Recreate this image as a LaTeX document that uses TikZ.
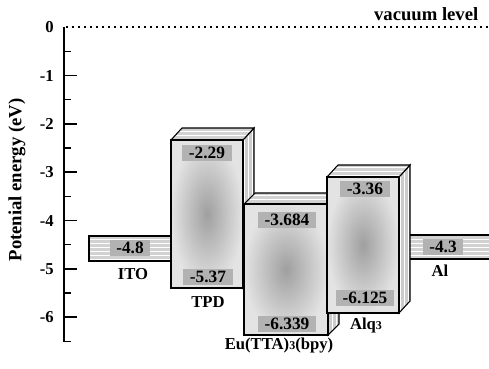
\documentclass[tikz,border=0pt]{standalone}
\usepackage{fontspec}
\setmainfont{Liberation Serif}
\usetikzlibrary{patterns}
\begin{document}
\begin{tikzpicture}[x=0.75pt,y=-0.75pt,
  lbl/.style={font=\bfseries\fontsize{12.5}{13}\selectfont, inner sep=1pt},
  ticklbl/.style={font=\bfseries\fontsize{12.5}{13}\selectfont, anchor=east, inner sep=0pt},
  num/.style={font=\bfseries\fontsize{13}{14}\selectfont, fill=gray!60, inner xsep=5pt, inner ysep=1.5pt},
  boxline/.style={draw=black, line width=0.8pt},
  frontshade/.style={inner color=gray!75, outer color=gray!22},
  scan/.style={pattern=horizontal lines, pattern color=white, fill opacity=0.45},
  sidescan/.style={pattern=vertical lines, pattern color=white, fill opacity=0.5},
  axisline/.style={line width=1.5pt},
  majortick/.style={line width=1.2pt},
  minortick/.style={line width=1pt},
  vac/.style={line width=1.6pt, dash pattern=on 1.2pt off 3.3pt}
]
\useasboundingbox (0,0) rectangle (489,368);

\newcommand\levelbox[6]{%
  \fill[gray!40] (#2,#3) -- (#2+#5,#3-#6) -- (#2+#5,#4-#6) -- (#2,#4) -- cycle;
  \fill[sidescan] (#2,#3) -- (#2+#5,#3-#6) -- (#2+#5,#4-#6) -- (#2,#4) -- cycle;
  \draw[boxline] (#2,#3) -- (#2+#5,#3-#6) -- (#2+#5,#4-#6) -- (#2,#4) -- cycle;
  \fill[gray!35] (#1,#3) -- (#1+#5,#3-#6) -- (#2+#5,#3-#6) -- (#2,#3) -- cycle;
  \fill[scan] (#1,#3) -- (#1+#5,#3-#6) -- (#2+#5,#3-#6) -- (#2,#3) -- cycle;
  \draw[boxline] (#1,#3) -- (#1+#5,#3-#6) -- (#2+#5,#3-#6) -- (#2,#3) -- cycle;
  \shade[frontshade] (#1,#3) rectangle (#2,#4);
  \draw[boxline] (#1,#3) rectangle (#2,#4);
}

% axis
\draw[axisline] (64,27) -- (64,342);
\foreach \k in {1,...,6} {
  \draw[majortick] (64,{27.3+48.33*\k}) -- (77,{27.3+48.33*\k});
}
\foreach \k in {0,...,6} {
  \draw[minortick] (64,{27.3+48.33*(\k+0.5)}) -- (71,{27.3+48.33*(\k+0.5)});
}
\node[ticklbl] (t0) at (54,27.3) {0};
\node[ticklbl] (t1) at (54,75.6) {-1};
\node[ticklbl] (t2) at (54,124) {-2};
\node[ticklbl] (t3) at (54,172.3) {-3};
\node[ticklbl] (t4) at (54,220.6) {-4};
\node[ticklbl] (t5) at (54,269) {-5};
\node[ticklbl] (t6) at (54,317.3) {-6};
\node[font=\bfseries\fontsize{14}{15}\selectfont, rotate=90] (ylab) at (17,180) {Potenial energy (eV)};

% vacuum level
\draw[vac] (66,27.3) -- (489,27.3);
\node[font=\bfseries\fontsize{14}{15}\selectfont, anchor=east] (vl) at (483,14) {vacuum level};

% ITO
\fill[gray!35] (89,236) rectangle (175,261);
\fill[scan] (89,236) rectangle (175,261);
\draw[boxline] (175,236) -- (89,236) -- (89,261) -- (175,261);

% Al
\fill[gray!35] (408,235) rectangle (492,259);
\fill[scan] (408,235) rectangle (492,259);
\draw[boxline] (492,235) -- (408,235);
\draw[boxline] (408,259) -- (492,259);

% TPD
\levelbox{171}{243}{140}{288}{11}{12}
% Eu(TTA)3(bpy)
\levelbox{244}{328}{204}{335}{11}{11}
% Alq3
\levelbox{327}{399}{177}{313}{11}{12}

% labels
\node[num] (itov) at (130,248) {-4.8};
\node[lbl] (ito) at (133,274) {ITO};
\node[num] (tpdl) at (207,153) {-2.29};
\node[num] (tpdh) at (208,277) {-5.37};
\node[lbl] (tpd) at (208,302) {TPD};
\node[num] (eul) at (287,220) {-3.684};
\node[num] (euh) at (287,324) {-6.339};
\node[lbl] (eu) at (279,346) {Eu(TTA){\fontsize{9}{9}\selectfont 3}(bpy)};
\node[num] (alql) at (365,189) {-3.36};
\node[num] (alqh) at (365,298) {-6.125};
\node[lbl] (alq) at (366,325) {Alq{\fontsize{9}{9}\selectfont 3}};
\node[num] (alv) at (443,247) {-4.3};
\node[lbl] (al) at (440,271) {Al};
\end{tikzpicture}
\end{document}
